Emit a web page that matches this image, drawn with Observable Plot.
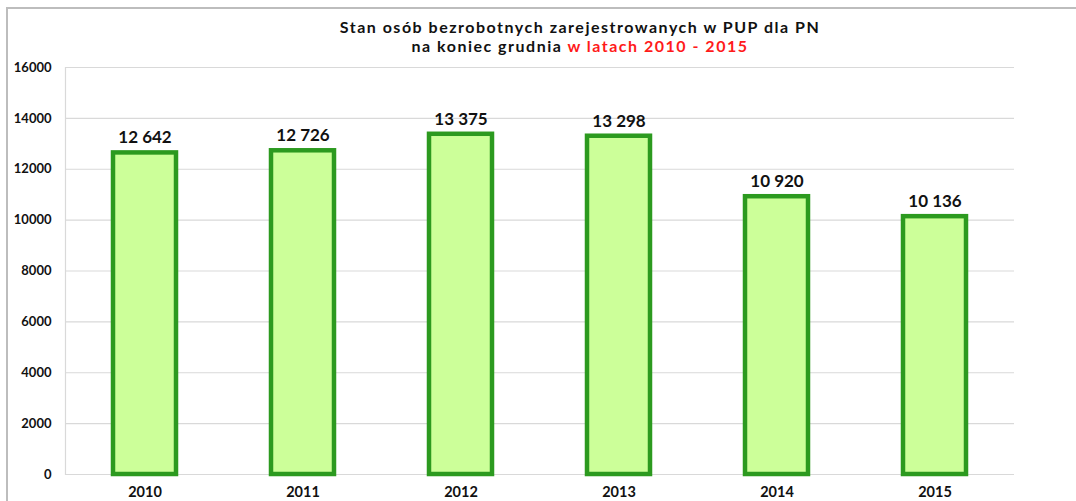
<!DOCTYPE html>
<html>
<head>
<meta charset="utf-8">
<script src="https://cdn.jsdelivr.net/npm/d3@7"></script>
<script src="https://cdn.jsdelivr.net/npm/@observablehq/plot@0.6"></script>
<style>
  body { margin: 0; background: #fff; }
  #wrap { position: relative; width: 1076px; height: 501px; overflow: hidden; font-family: Lato, "Open Sans", sans-serif; }
  #frame { position: absolute; left: 6px; top: 7px; width: 1076px; height: 600px; border-top: 2px solid #bdbdbd; border-left: 2px solid #bdbdbd; }
  #title { position: absolute; left: 100px; width: 960px; top: 17px; text-align: center; font-weight: bold; font-size: 16px; letter-spacing: 1.5px; line-height: 19px; color: #111; }
  #title .red { color: #ff1a1a; }
  #chart { position: absolute; left: 0; top: 0; }
</style>
</head>
<body>
<div id="wrap">
  <div id="frame"></div>
  <div id="chart"></div>
  <div id="title">Stan osób bezrobotnych zarejestrowanych w PUP dla PN<br>na koniec grudnia <span class="red">w latach 2010 - 2015</span></div>
</div>
<script>
const years = ["2010", "2011", "2012", "2013", "2014", "2015"];
const values = [12642, 12726, 13375, 13298, 10920, 10136];
const yTicks = [0, 2000, 4000, 6000, 8000, 10000, 12000, 14000, 16000];

const data = years.map((y, i) => ({year: y, value: values[i]}));
const fmt = v => d3.format(",")(v).replace(/,/g, " ");

const chart = Plot.plot({
  width: 1076,
  height: 501,
  marginLeft: 65,
  marginRight: 62,
  marginTop: 67,
  marginBottom: 27,
  style: {fontFamily: "Lato, 'Open Sans', sans-serif", background: "transparent"},
  x: {domain: years, paddingInner: 0.6, paddingOuter: 0.3, label: null},
  y: {domain: [0, 16000], ticks: yTicks, label: null},
  marks: [
    Plot.gridY(yTicks, {stroke: "#d9d9d9", strokeOpacity: 1, strokeWidth: 1.2}),
    Plot.frame({anchor: "left", stroke: "#d9d9d9", strokeWidth: 1.2}),
    Plot.axisY({ticks: yTicks, tickSize: 0, tickPadding: 14, tickFormat: d => String(d), fontSize: 13, fontWeight: "bold", fill: "#111", label: null}),
    Plot.axisX({tickSize: 0, tickPadding: 12, fontSize: 14.5, fontWeight: "bold", fill: "#111", label: null}),
    Plot.barY(data, {x: "year", y: "value", fill: "#ccff99", stroke: "#2c9a1f", strokeWidth: 4.5}),
    Plot.text(data, {x: "year", y: "value", text: d => fmt(d.value), dy: -15, fontSize: 17, fontWeight: "bold", fill: "#111"})
  ]
});
document.getElementById("chart").appendChild(chart);
</script>
</body>
</html>
